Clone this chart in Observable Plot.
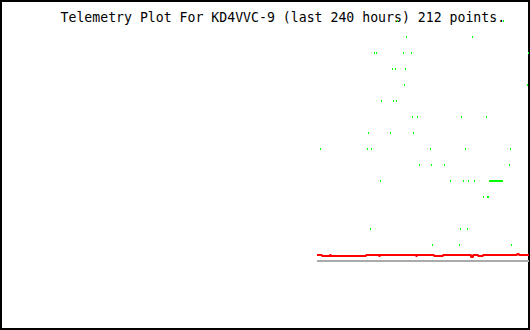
<!DOCTYPE html>
<html>
<head>
<meta charset="utf-8">
<script src="https://cdn.jsdelivr.net/npm/d3@7"></script>
<script src="https://cdn.jsdelivr.net/npm/@observablehq/plot@0.6"></script>
<style>
  html, body { margin: 0; padding: 0; background: #ffffff; }
  #chart svg { display: block; }
</style>
</head>
<body>
<div id="chart"></div>
<script>
// Title text
const titleText = "Telemetry Plot For KD4VVC-9 (last 240 hours) 212 points.";

// Green channel: hours since window start, and value
const greenHours = [
  180.00, 228.18,
  184.09, 214.09,
  169.55, 170.45, 182.73, 186.36, 239.55,
  177.73, 179.09, 183.64,
  183.18, 239.09,
  172.73, 178.18, 179.55,
  186.82, 189.09, 209.09, 220.45,
  166.82, 176.82, 187.27,
  145.00, 166.36, 168.18, 195.00, 210.91, 231.36,
  190.00, 195.45, 201.36, 230.91,
  172.27, 204.09, 210.00, 212.27, 215.00,
  221.82, 222.27, 222.73, 223.18, 223.64, 224.09, 224.55, 225.00, 225.45, 225.91, 226.36, 226.82, 227.27, 227.73,
  219.09, 220.91, 221.36,
  167.73, 208.64, 211.82,
  195.91, 208.18, 231.82
];
const greenValues = [
  309, 309,
  293, 293,
  277, 277, 277, 277, 277,
  261, 261, 261,
  245, 245,
  229, 229, 229,
  213, 213, 213, 213,
  197, 197, 197,
  181, 181, 181, 181, 181, 181,
  165, 165, 165, 165,
  149, 149, 149, 149, 149,
  149, 149, 149, 149, 149, 149, 149, 149, 149, 149, 149, 149, 149, 149,
  133, 133, 133,
  101, 101, 101,
  85, 85, 85
];

// Red channel (values at change points)
const redHours = [143.64, 145.91, 149.55, 150.00, 165.91, 171.82, 172.27, 188.64, 189.09,
  196.82, 200.91, 213.64, 214.55, 216.82, 219.09, 234.55, 235.45, 240.00];
const redValues = [75, 74, 75, 74, 75, 74, 75, 74, 75,
  74, 75, 73, 75, 74, 75, 76, 75, 75];

// Gray channel
const grayHours = [143.64, 240.00];
const grayValues = [69, 69];

const green = greenHours.map((h, i) => ({h, v: greenValues[i]}));
const red = redHours.map((h, i) => ({h, v: redValues[i]}));
const gray = grayHours.map((h, i) => ({h, v: grayValues[i]}));

const chart = Plot.plot({
  width: 530,
  height: 330,
  margin: 0,
  style: {background: "#ffffff", overflow: "visible"},
  x: {domain: [0, 240], range: [1, 529], axis: null},
  y: {domain: [0, 330], range: [330, 0], axis: null},
  marks: [
    Plot.frame({stroke: "#000000", strokeWidth: 2, inset: 1, dx: -0.5, dy: -0.5}),
    Plot.line(gray, {x: "h", y: "v", stroke: "#aaaaaa", strokeWidth: 2, strokeLinecap: "butt",
      dx: -0.5, dy: -0.5}),
    Plot.line(red, {x: "h", y: "v", curve: "step-after", stroke: "#ff0000", strokeWidth: 2,
      strokeLinecap: "butt", strokeLinejoin: "miter", dx: -0.5, dy: -0.5}),
    Plot.text([titleText], {
      text: d => d, frameAnchor: "top-left", textAnchor: "start", lineAnchor: "top",
      dx: 60, dy: 12.5, fontSize: 13.2, fontFamily: "DejaVu Sans Mono", fill: "#000000"
    }),
    Plot.link(green, {x1: "h", x2: "h", y1: d => d.v - 1, y2: d => d.v + 1,
      stroke: "#00ff00", strokeWidth: 1, strokeLinecap: "butt", dy: -0.5})
  ]
});
document.getElementById("chart").appendChild(chart);
</script>
</body>
</html>
